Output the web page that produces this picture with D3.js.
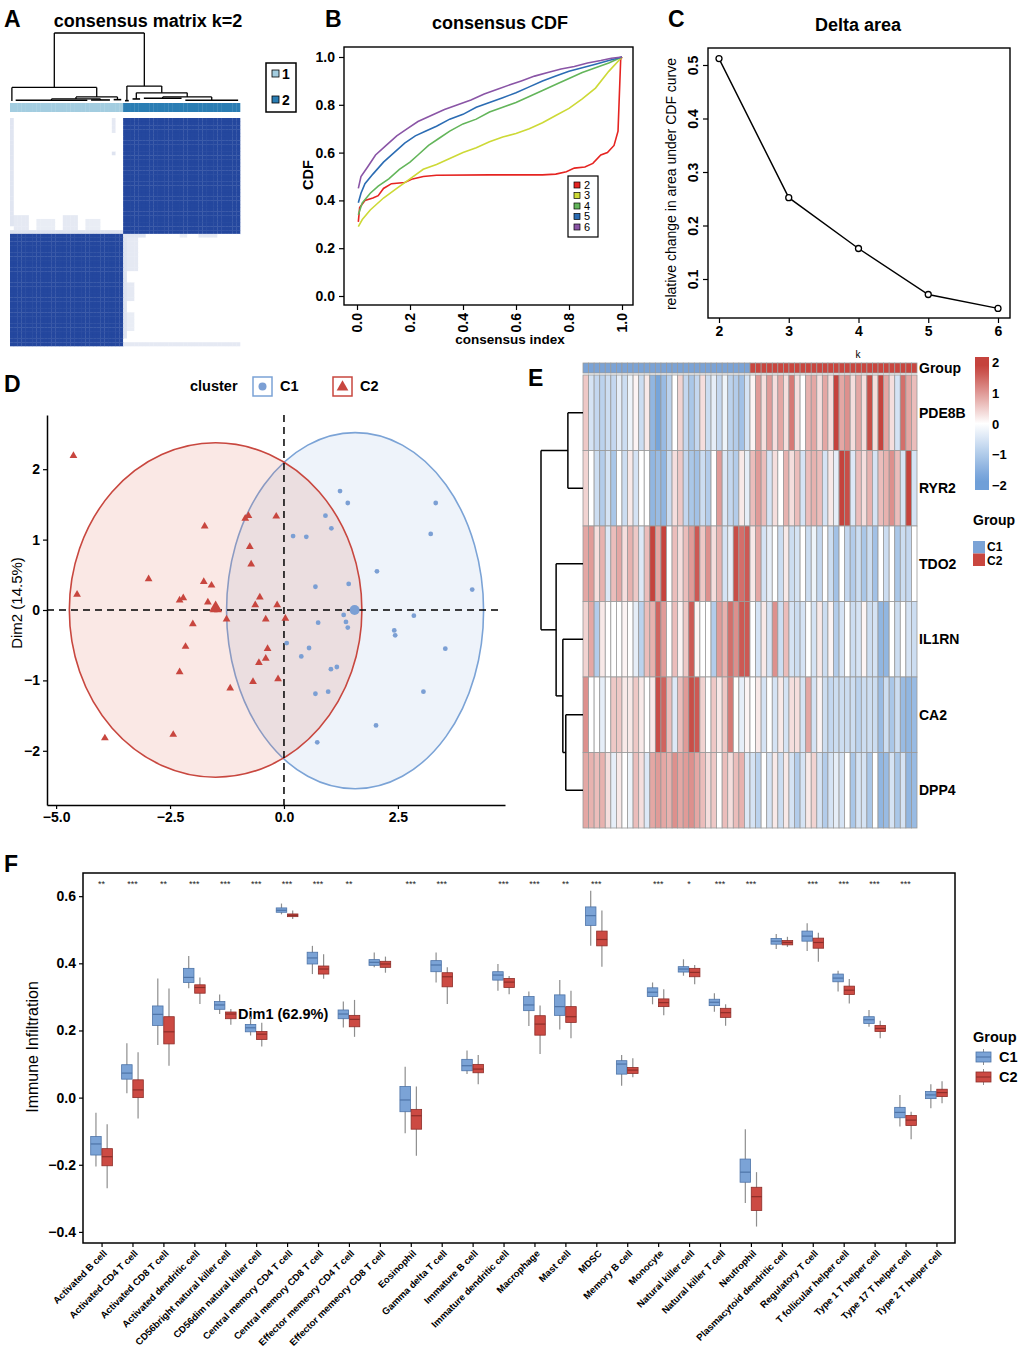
<!DOCTYPE html>
<html>
<head>
<meta charset="utf-8">
<script src="https://cdn.jsdelivr.net/npm/d3@7"></script>
<style>
  body { margin: 0; background: #fff; }
  svg { display: block; }
</style>
</head>
<body>
<svg id="fig" width="1022" height="1358"></svg>
<script>
const FONT = '"Liberation Sans", Arial, Helvetica, sans-serif';

// ---------- A: consensus matrix ----------
const consensusSizes = [30, 31];               // samples in cluster 1, cluster 2
const consensusBlocks = [[0, 1], [1, 0]];      // rows: cluster 2 block, cluster 1 block
const consensusFaint = [                       // [row0, row1, col0, col1, value]
  [0, 28, 0, 0, 0.14], [0, 3, 27, 27, 0.12], [9, 9, 27, 27, 0.15],
  [26, 29, 1, 4, 0.12], [27, 29, 7, 11, 0.1], [26, 29, 14, 17, 0.12], [27, 29, 20, 23, 0.1],
  [30, 30, 0, 29, 0.15],
  [31, 31, 30, 35, 0.14], [31, 31, 45, 46, 0.1], [31, 31, 50, 54, 0.12],
  [32, 58, 30, 30, 0.15], [32, 40, 31, 33, 0.12], [44, 48, 31, 32, 0.12], [52, 56, 31, 32, 0.1],
  [60, 60, 30, 60, 0.12]
];
const consensusTree = {h: 1, children: [
  {h: 0.2, children: [
    {h: 0, from: 0, to: 0},
    {h: 0.06, children: [
      {h: 0.03, children: [{h: 0.01, from: 1, to: 20}, {h: 0.015, from: 21, to: 26}]},
      {h: 0.02, from: 27, to: 29}
    ]}
  ]},
  {h: 0.22, children: [
    {h: 0.005, from: 30, to: 31},
    {h: 0.12, children: [
      {h: 0.03, from: 32, to: 34},
      {h: 0.06, children: [{h: 0.04, from: 35, to: 45}, {h: 0.01, from: 46, to: 60}]}
    ]}
  ]}
]};

// ---------- B: consensus CDF ----------
const cdfK = ["2", "3", "4", "5", "6"];
const cdfColors = ["#E52421", "#CDD936", "#63B55A", "#2B6CB3", "#8A55A6"];
const cdfCurves = [
  [[0.005,0.31],[0.01,0.37],[0.03,0.40],[0.06,0.41],[0.08,0.42],[0.10,0.45],[0.13,0.47],[0.18,0.475],[0.21,0.49],[0.25,0.50],[0.30,0.505],[0.50,0.507],[0.70,0.507],[0.75,0.51],[0.79,0.52],[0.82,0.535],[0.86,0.54],[0.89,0.555],[0.92,0.59],[0.945,0.60],[0.97,0.63],[0.985,0.69],[0.995,0.99],[1.0,1.0]],
  [[0.005,0.29],[0.02,0.32],[0.05,0.36],[0.10,0.41],[0.15,0.45],[0.20,0.49],[0.25,0.53],[0.30,0.55],[0.35,0.575],[0.40,0.60],[0.45,0.62],[0.50,0.645],[0.55,0.665],[0.60,0.68],[0.65,0.70],[0.70,0.725],[0.75,0.755],[0.80,0.785],[0.85,0.825],[0.90,0.87],[0.95,0.94],[1.0,1.0]],
  [[0.005,0.34],[0.02,0.39],[0.05,0.43],[0.08,0.46],[0.12,0.49],[0.16,0.53],[0.20,0.56],[0.23,0.59],[0.27,0.63],[0.31,0.66],[0.35,0.69],[0.40,0.72],[0.45,0.74],[0.50,0.77],[0.55,0.79],[0.60,0.81],[0.65,0.835],[0.70,0.86],[0.76,0.89],[0.80,0.91],[0.85,0.935],[0.90,0.955],[0.95,0.975],[1.0,1.0]],
  [[0.005,0.39],[0.015,0.43],[0.03,0.47],[0.06,0.51],[0.10,0.56],[0.14,0.60],[0.18,0.64],[0.22,0.67],[0.26,0.69],[0.30,0.71],[0.35,0.74],[0.40,0.76],[0.45,0.79],[0.50,0.81],[0.55,0.83],[0.60,0.85],[0.65,0.875],[0.70,0.90],[0.75,0.92],[0.80,0.94],[0.85,0.955],[0.90,0.97],[0.95,0.985],[1.0,1.0]],
  [[0.005,0.45],[0.015,0.50],[0.04,0.54],[0.07,0.59],[0.11,0.63],[0.15,0.67],[0.19,0.70],[0.23,0.73],[0.28,0.755],[0.33,0.78],[0.38,0.80],[0.43,0.82],[0.48,0.845],[0.53,0.865],[0.58,0.885],[0.62,0.90],[0.67,0.92],[0.72,0.935],[0.77,0.95],[0.82,0.96],[0.87,0.975],[0.92,0.985],[0.96,0.995],[1.0,1.0]]
];

// ---------- C: delta area ----------
const deltaK = [2, 3, 4, 5, 6];
const deltaArea = [0.512, 0.252, 0.157, 0.071, 0.045];

// ---------- D: PCA ----------
const c1Points = [[1.23,1.69],[1.40,1.52],[0.91,1.34],[1.04,1.16],[0.20,1.05],[0.49,1.04],[3.33,1.52],[3.22,1.08],[2.04,0.55],[0.69,0.33],[1.42,0.37],[4.13,0.29],[1.31,-0.07],[1.36,-0.17],[1.40,-0.25],[0.75,-0.18],[2.85,-0.08],[2.42,-0.29],[2.44,-0.36],[0.06,-0.47],[0.55,-0.54],[0.38,-0.66],[3.54,-0.55],[1.16,-0.81],[1.03,-0.84],[0.69,-1.19],[0.97,-1.16],[3.06,-1.16],[2.02,-1.64],[0.73,-1.88]];
const c2Points = [[-4.62,2.19],[-4.54,0.22],[-3.93,-1.82],[-2.43,-1.77],[-2.97,0.44],[-1.74,1.19],[-1.76,0.40],[-1.59,0.35],[-1.67,0.11],[-2.21,0.17],[-2.29,0.14],[-1.54,0.0],[-1.45,0.0],[-1.26,-0.13],[-2.00,-0.20],[-2.16,-0.52],[-2.29,-0.88],[-1.18,-1.11],[-0.68,-1.02],[-0.13,-0.98],[-0.55,-0.75],[-0.40,-0.69],[-0.36,-0.55],[-0.40,-0.13],[0.03,-0.12],[-0.15,0.07],[-0.63,0.07],[-0.53,0.18],[-0.72,0.65],[-0.75,0.90],[-0.85,1.30],[-0.78,1.34],[-0.17,1.33]];
const clusterCentroids = [[1.55, 0.0], [-1.5, 0.03]];
const clusterEllipses = [[1.56, -0.01, 2.82, 2.53], [-1.5, 0.0, 3.21, 2.375]]; // cx, cy, rx, ry

// ---------- E: heatmap ----------
const genes = ["PDE8B", "RYR2", "TDO2", "IL1RN", "CA2", "DPP4"];
const groupSizes = [30, 30];
const exprC1 = [
  [0.5,-0.5,-0.7,-0.8,-0.6,-0.7,-0.3,-0.6,-0.2,0.1,-0.6,0.2,-1.3,-1.6,-1.2,-0.8,0,0.4,-0.7,-1.0,-0.7,0.3,-0.6,-0.3,-0.7,-0.2,-0.8,-0.9,-1.1,-0.5],
  [0.4,0,-0.6,-0.9,-0.5,-1.0,0,-0.6,0.2,-0.5,0,0,-1.3,-1.2,-1.3,-0.6,0.3,0.5,-0.7,-1.0,-1.1,-0.6,-0.9,0,0.9,-0.4,-0.7,-0.9,0.2,-0.3],
  [0.8,0.9,0.3,0.7,-0.4,0.6,0.8,0.3,0.7,0.5,-0.4,0.6,1.7,0.8,1.7,0,0.6,0.3,0.6,0.9,1.5,0.5,1.0,0.3,0.7,-0.5,-0.3,1.6,1.3,1.5],
  [0.4,0.8,-0.9,0.2,0,0,0,0.1,0,-0.3,-0.8,0.6,0.7,1.4,0.9,0,0.6,0.1,0.5,1.5,0.1,0,0,-0.9,0.9,0.7,1.3,1.0,1.5,1.5],
  [1.0,0,0,-0.3,0,0.5,0.5,0.2,0.2,0.5,0.2,0,0.2,1.6,1.4,0.6,-0.4,0.6,0.9,1.6,1.5,0.4,0,0.5,0.2,0.5,1.2,0,-0.3,0.1],
  [0.8,0.7,0.6,0.7,0.3,-0.3,0.2,0,-0.2,0.6,0.3,-0.4,0.8,0.9,0.8,0.7,1.0,0.8,0.9,1.0,0.8,0.6,0.3,0.5,0,0.6,0.3,0.6,0.7,-0.4]
];
const exprC2 = [
  [0.1,0.9,0.3,0.9,0.3,0.8,0.3,1.2,0.3,0.0,0.7,0.8,0.3,0.8,0.3,1.8,0.8,1.0,0.3,0.8,0.3,1.6,0.3,1.7,0.8,0.3,-0.5,1.3,0.8,0.6],
  [0.6,0.9,0.6,-0.5,0.3,0,0.7,0.3,0.6,-0.5,0.6,0.7,0.6,-0.5,0.2,-0.3,1.9,1.6,-0.4,0.6,0.3,0.7,-0.5,0.6,0.7,1.0,0.6,-0.5,1.7,-0.5],
  [0.2,0.8,-0.5,-0.3,0,-0.6,0.2,-0.6,-0.5,0,-0.6,-0.2,-0.7,0,-0.6,-1.1,0,-0.7,-0.9,-0.6,-1.0,-0.6,-1.1,0,-0.6,0,-1.0,-0.6,-0.7,0],
  [0,-0.5,0.2,-0.5,1.0,-0.6,0.6,-0.5,-0.6,-0.5,0,-0.5,0.2,-0.6,0.1,-0.9,-0.5,0,-0.6,-0.5,0.1,-0.6,-0.5,-1.3,-1.3,0,-0.6,0,-0.5,-0.6],
  [0,0.2,-0.5,0,-0.5,0.2,-0.5,0.3,0.3,-0.5,0.8,-0.5,0.1,-0.6,-0.7,-0.6,-0.6,-0.6,-0.6,-0.8,-0.6,-0.6,-0.6,-1.2,-0.6,-1.0,-0.6,-1.2,-1.3,-1.2],
  [-0.5,-0.8,0,-0.5,0.2,-0.6,0.2,-0.5,-0.9,-0.5,0.2,0.4,-0.5,-0.9,-0.5,-0.3,-0.5,0,-1.0,-0.5,-0.5,-1.0,0,-1.3,-1.2,-0.5,-1.0,-0.5,-1.3,-1.2]
];
const geneTree = {h: 10, children: [
  {h: 3.6, children: [{leaf: "PDE8B"}, {leaf: "RYR2"}]},
  {h: 6.4, children: [
    {leaf: "TDO2"},
    {h: 4.8, children: [{leaf: "IL1RN"}, {h: 4.1, children: [{leaf: "CA2"}, {leaf: "DPP4"}]}]}
  ]}
]};
const legendTicks = [2, 1, 0, -1, -2];

// ---------- F: immune infiltration ----------
const immuneCells = ["Activated B cell","Activated CD4 T cell","Activated CD8 T cell","Activated dendritic cell","CD56bright natural killer cell","CD56dim natural killer cell","Central memory CD4 T cell","Central memory CD8 T cell","Effector memeory CD4 T cell","Effector memeory CD8 T cell","Eosinophil","Gamma delta T cell","Immature  B cell","Immature dendritic cell","Macrophage","Mast cell","MDSC","Memory B cell","Monocyte","Natural killer cell","Natural killer T cell","Neutrophil","Plasmacytoid dendritic cell","Regulatory T cell","T follicular helper cell","Type 1 T helper cell","Type 17 T helper cell","Type 2 T helper cell"];
// [lower whisker, q1, median, q3, upper whisker]
const boxC1 = [[-0.205,-0.171,-0.138,-0.116,-0.045],[0.013,0.055,0.073,0.098,0.162],[0.157,0.215,0.248,0.273,0.355],[0.326,0.343,0.358,0.385,0.422],[0.249,0.263,0.276,0.286,0.307],[0.185,0.196,0.208,0.218,0.241],[0.546,0.552,0.558,0.565,0.578],[0.368,0.398,0.416,0.433,0.452],[0.209,0.235,0.249,0.261,0.286],[0.388,0.394,0.403,0.411,0.432],[-0.106,-0.042,-0.007,0.033,0.092],[0.343,0.375,0.395,0.408,0.432],[0.070,0.080,0.095,0.114,0.140],[0.318,0.350,0.365,0.375,0.398],[0.213,0.259,0.276,0.301,0.316],[0.203,0.245,0.271,0.306,0.350],[0.452,0.513,0.542,0.568,0.616],[0.035,0.070,0.100,0.110,0.127],[0.278,0.301,0.314,0.327,0.343],[0.363,0.374,0.383,0.390,0.412],[0.256,0.274,0.284,0.293,0.311],[-0.314,-0.252,-0.222,-0.183,-0.094],[0.443,0.457,0.466,0.474,0.487],[0.437,0.466,0.481,0.496,0.519],[0.316,0.345,0.356,0.368,0.378],[0.211,0.221,0.232,0.241,0.261],[-0.086,-0.060,-0.044,-0.029,0.008],[-0.032,-0.003,0.008,0.018,0.040]];
const boxC2 = [[-0.27,-0.203,-0.176,-0.152,-0.079],[-0.062,0.0,0.023,0.053,0.135],[0.095,0.160,0.196,0.241,0.325],[0.279,0.311,0.328,0.336,0.358],[0.217,0.235,0.249,0.255,0.264],[0.152,0.173,0.189,0.197,0.223],[0.532,0.539,0.543,0.547,0.557],[0.354,0.368,0.383,0.392,0.427],[0.181,0.211,0.233,0.245,0.291],[0.372,0.388,0.398,0.406,0.420],[-0.173,-0.094,-0.054,-0.035,0.033],[0.279,0.330,0.360,0.372,0.388],[0.040,0.074,0.085,0.099,0.127],[0.308,0.328,0.344,0.355,0.362],[0.130,0.186,0.219,0.244,0.274],[0.177,0.224,0.241,0.271,0.318],[0.390,0.452,0.471,0.496,0.557],[0.061,0.072,0.082,0.090,0.117],[0.245,0.271,0.283,0.294,0.323],[0.338,0.360,0.373,0.385,0.395],[0.214,0.239,0.253,0.266,0.278],[-0.384,-0.336,-0.295,-0.267,-0.222],[0.449,0.455,0.462,0.468,0.479],[0.405,0.445,0.462,0.475,0.491],[0.280,0.307,0.320,0.332,0.353],[0.177,0.197,0.206,0.215,0.229],[-0.124,-0.083,-0.067,-0.053,-0.042],[-0.017,0.003,0.015,0.025,0.049]];
const sigLabels = ["**","***","**","***","***","***","***","***","**","","***","***","","***","***","**","***","","***","*","***","***","","***","***","***","***",""];

const C1 = "#7BA3D6", C2 = "#CC4A43";

// ======================================================
const svg = d3.select("#fig");

function txt(x, y, s, size, weight, anchor, rot) {
  const t = svg.append("text")
    .attr("font-family", FONT).attr("font-size", size)
    .attr("font-weight", weight || "normal")
    .attr("text-anchor", anchor || "start")
    .text(s);
  if (rot) t.attr("transform", `translate(${x},${y}) rotate(${rot})`);
  else t.attr("x", x).attr("y", y);
  return t;
}
function styleAxis(g, size, weight) {
  g.attr("font-family", FONT).attr("font-size", size).attr("font-weight", weight);
  g.selectAll(".tick line").attr("stroke", "#000").attr("stroke-width", 1.2);
  g.selectAll(".tick text").attr("fill", "#000");
}

// panel letters
[["A", 4, 27], ["B", 325, 27], ["C", 668, 27], ["D", 4, 392], ["E", 528, 386], ["F", 4, 872]]
  .forEach(([s, x, y]) => txt(x, y, s, 23, "bold"));

// ---------------- Panel A ----------------
(function () {
  const n = d3.sum(consensusSizes);
  const xA = d3.scaleBand().domain(d3.range(n)).range([10, 240]);
  const yA = d3.scaleBand().domain(d3.range(n)).range([118, 346]);
  const colBlock = c => (c < consensusSizes[0] ? 0 : 1);
  const rowBlock = r => (r < consensusSizes[1] ? 0 : 1);
  const mat = d3.range(n).map(r => d3.range(n).map(c => consensusBlocks[rowBlock(r)][colBlock(c)]));
  consensusFaint.forEach(([r0, r1, c0, c1, v]) => {
    for (let r = r0; r <= r1; r++) for (let c = c0; c <= c1; c++) mat[r][c] = v;
  });
  const col = d3.scaleLinear([0, 1], ["#ffffff", "#24479E"]);
  const cells = mat.flatMap((row, r) => row.map((v, c) => ({r, c, v})));
  svg.append("g").selectAll("rect").data(cells).join("rect")
    .attr("x", d => xA(d.c)).attr("y", d => yA(d.r))
    .attr("width", xA.bandwidth() + 0.3).attr("height", yA.bandwidth() + 0.3)
    .attr("fill", d => col(d.v));

  // cluster colour bar
  const barCol = ["#A3CDE0", "#2A7DB3"];
  svg.append("g").selectAll("rect").data(d3.range(n)).join("rect")
    .attr("x", d => xA(d)).attr("y", 103).attr("width", xA.bandwidth() + 0.3).attr("height", 9)
    .attr("fill", d => barCol[colBlock(d)]);

  // dendrogram
  const yD = d3.scaleLinear([0, 1], [101, 33]);
  const leafX = i => xA(i) + xA.bandwidth() / 2;
  const g = svg.append("g").attr("stroke", "#000").attr("stroke-width", 1.3).attr("fill", "none");
  function lay(node) {
    if (node.children) {
      const xs = node.children.map(lay);
      node.children.forEach((ch, i) => {
        g.append("line").attr("x1", xs[i]).attr("x2", xs[i]).attr("y1", yD(ch.h)).attr("y2", yD(node.h));
      });
      g.append("line").attr("x1", xs[0]).attr("x2", xs[1]).attr("y1", yD(node.h)).attr("y2", yD(node.h));
      return (xs[0] + xs[1]) / 2;
    }
    if (node.to > node.from) {
      g.append("line").attr("x1", leafX(node.from)).attr("x2", leafX(node.to))
        .attr("y1", yD(node.h)).attr("y2", yD(node.h)).attr("stroke-width", 1.6);
    }
    return (leafX(node.from) + leafX(node.to)) / 2;
  }
  lay(consensusTree);

  txt(148, 27, "consensus matrix k=2", 18, "bold", "middle");

  // legend
  svg.append("rect").attr("x", 266).attr("y", 63).attr("width", 30).attr("height", 49)
    .attr("fill", "#fff").attr("stroke", "#000").attr("stroke-width", 1.5);
  ["1", "2"].forEach((s, i) => {
    svg.append("rect").attr("x", 272).attr("y", 70 + i * 26).attr("width", 7).attr("height", 7)
      .attr("fill", barCol[i]).attr("stroke", "#000").attr("stroke-width", 0.8);
    txt(282, 79 + i * 26, s, 14, "bold");
  });
})();

// ---------------- Panel B ----------------
(function () {
  const xB = d3.scaleLinear([0, 1], [357, 622]);
  const yB = d3.scaleLinear([0, 1], [296, 57]);
  const line = d3.line().x(d => xB(d[0])).y(d => yB(d[1]));
  svg.append("g").selectAll("path").data(cdfCurves).join("path")
    .attr("d", line).attr("fill", "none")
    .attr("stroke", (d, i) => cdfColors[i]).attr("stroke-width", 1.6);
  svg.append("rect").attr("x", 344).attr("y", 47).attr("width", 289).attr("height", 258)
    .attr("fill", "none").attr("stroke", "#000").attr("stroke-width", 1.4);
  const ay = svg.append("g").attr("transform", "translate(344,0)")
    .call(d3.axisLeft(yB).tickValues([0, 0.2, 0.4, 0.6, 0.8, 1]).tickFormat(d3.format(".1f")).tickSize(5).tickPadding(4));
  ay.select(".domain").remove();
  styleAxis(ay, 14, "bold");
  const ax = svg.append("g").attr("transform", "translate(0,305)")
    .call(d3.axisBottom(xB).tickValues([0, 0.2, 0.4, 0.6, 0.8, 1]).tickFormat(d3.format(".1f")).tickSize(5));
  ax.select(".domain").remove();
  styleAxis(ax, 14, "bold");
  ax.selectAll(".tick text").attr("transform", "rotate(-90)").attr("text-anchor", "end")
    .attr("x", -8).attr("y", 0).attr("dy", "0.35em");
  txt(500, 29, "consensus CDF", 18, "bold", "middle");
  txt(510, 344, "consensus index", 13.5, "bold", "middle");
  txt(313, 175, "CDF", 14.5, "bold", "middle", -90);

  svg.append("rect").attr("x", 568).attr("y", 176).attr("width", 30).attr("height", 61)
    .attr("fill", "#fff").attr("stroke", "#000").attr("stroke-width", 1.2);
  cdfK.forEach((k, i) => {
    svg.append("rect").attr("x", 574).attr("y", 182 + i * 10.5).attr("width", 6).attr("height", 6)
      .attr("fill", cdfColors[i]).attr("stroke", "#000").attr("stroke-width", 0.7);
    txt(584, 188.5 + i * 10.5, k, 11);
  });
})();

// ---------------- Panel C ----------------
(function () {
  const xC = d3.scaleLinear([2, 6], [719, 998]);
  const yC = d3.scaleLinear([0.1, 0.5], [279, 65]);
  const pts = deltaK.map((k, i) => [k, deltaArea[i]]);
  svg.append("path").datum(pts).attr("fill", "none").attr("stroke", "#000").attr("stroke-width", 1.4)
    .attr("d", d3.line().x(d => xC(d[0])).y(d => yC(d[1])));
  svg.append("g").selectAll("circle").data(pts).join("circle")
    .attr("cx", d => xC(d[0])).attr("cy", d => yC(d[1])).attr("r", 3)
    .attr("fill", "#fff").attr("stroke", "#000").attr("stroke-width", 1.3);
  svg.append("rect").attr("x", 708).attr("y", 48).attr("width", 302).attr("height", 270)
    .attr("fill", "none").attr("stroke", "#000").attr("stroke-width", 1.4);
  const ay = svg.append("g").attr("transform", "translate(708,0)")
    .call(d3.axisLeft(yC).tickValues([0.1, 0.2, 0.3, 0.4, 0.5]).tickFormat(d3.format(".1f")).tickSize(5));
  ay.select(".domain").remove();
  styleAxis(ay, 14, "bold");
  ay.selectAll(".tick text").attr("x", 0).attr("dy", 0).attr("text-anchor", "middle")
    .attr("transform", "translate(-10,0) rotate(-90)");
  const ax = svg.append("g").attr("transform", "translate(0,318)")
    .call(d3.axisBottom(xC).tickValues(deltaK).tickFormat(d3.format("d")).tickSize(5));
  ax.select(".domain").remove();
  styleAxis(ax, 14, "bold");
  txt(858, 31, "Delta area", 18, "bold", "middle");
  txt(676, 184, "relative change in area under CDF curve", 14, "normal", "middle", -90);
  txt(858, 358, "k", 10, "normal", "middle");
})();

// ---------------- Panel D ----------------
(function () {
  const xD = d3.scaleLinear([-5.2, 4.85], [47, 505]);
  const yD = d3.scaleLinear([-2.77, 2.77], [805, 415]);
  const ellCol = [C1, "#C8473F"];
  const ellFill = ["#7BA3D6", "#E0705F"];
  clusterEllipses.forEach(([cx, cy, rx, ry], i) => {
    svg.append("ellipse")
      .attr("cx", xD(cx)).attr("cy", yD(cy))
      .attr("rx", xD(cx + rx) - xD(cx)).attr("ry", yD(cy) - yD(cy + ry))
      .attr("fill", ellFill[i]).attr("fill-opacity", i ? 0.16 : 0.13)
      .attr("stroke", ellCol[i]).attr("stroke-width", 1.6);
  });
  // reference lines
  svg.append("line").attr("x1", 47).attr("x2", 500).attr("y1", yD(0)).attr("y2", yD(0))
    .attr("stroke", "#000").attr("stroke-width", 1.5).attr("stroke-dasharray", "7,5");
  svg.append("line").attr("x1", xD(0)).attr("x2", xD(0)).attr("y1", 415).attr("y2", 805)
    .attr("stroke", "#000").attr("stroke-width", 1.5).attr("stroke-dasharray", "7,5");

  svg.append("g").selectAll("circle").data(c1Points).join("circle")
    .attr("cx", d => xD(d[0])).attr("cy", d => yD(d[1])).attr("r", 2.4).attr("fill", "#7B9FD4");
  const tri = d3.symbol(d3.symbolTriangle).size(26);
  svg.append("g").selectAll("path").data(c2Points).join("path")
    .attr("transform", d => `translate(${xD(d[0])},${yD(d[1])})`).attr("d", tri).attr("fill", "#C8463F");
  svg.append("circle").attr("cx", xD(clusterCentroids[0][0])).attr("cy", yD(clusterCentroids[0][1]))
    .attr("r", 5).attr("fill", "#7B9FD4");
  svg.append("path").attr("transform", `translate(${xD(clusterCentroids[1][0])},${yD(clusterCentroids[1][1])})`)
    .attr("d", d3.symbol(d3.symbolTriangle).size(70)).attr("fill", "#C8463F");

  const ax = svg.append("g").attr("transform", "translate(0,805)")
    .call(d3.axisBottom(xD).tickValues([-5, -2.5, 0, 2.5]).tickFormat(d3.format(".1f")).tickSize(4).tickSizeOuter(0));
  styleAxis(ax, 14, "bold");
  ax.select(".domain").attr("stroke-width", 1.5);
  const ay = svg.append("g").attr("transform", "translate(47,0)")
    .call(d3.axisLeft(yD).tickValues([-2, -1, 0, 1, 2]).tickFormat(d3.format("d")).tickSize(4).tickSizeOuter(0));
  styleAxis(ay, 14, "bold");
  ay.select(".domain").attr("stroke-width", 1.5);

  txt(22, 603, "Dim2 (14.5%)", 15, "normal", "middle", -90);
  txt(238, 1019, "Dim1 (62.9%)", 14.5, "bold");

  // legend
  txt(190, 391, "cluster", 14.5, "bold");
  svg.append("rect").attr("x", 253).attr("y", 377).attr("width", 19).attr("height", 19)
    .attr("fill", "#fff").attr("stroke", C1).attr("stroke-width", 1.5);
  svg.append("circle").attr("cx", 262.5).attr("cy", 386.5).attr("r", 4).attr("fill", "#7B9FD4");
  txt(280, 391, "C1", 14.5, "bold");
  svg.append("rect").attr("x", 333).attr("y", 377).attr("width", 19).attr("height", 19)
    .attr("fill", "#fff").attr("stroke", "#C8473F").attr("stroke-width", 1.5);
  svg.append("path").attr("transform", "translate(342.5,387)")
    .attr("d", d3.symbol(d3.symbolTriangle).size(60)).attr("fill", "#C8463F");
  txt(360, 391, "C2", 14.5, "bold");
})();

// ---------------- Panel E ----------------
(function () {
  const n = d3.sum(groupSizes);
  const xE = d3.scaleBand().domain(d3.range(n)).range([583, 917]);
  const yE = d3.scaleBand().domain(genes).range([375, 828]);
  const heat = d3.scaleLinear([-1.7, 0, 1.7], ["#6F9FD8", "#FFFFFF", "#C5433D"]).clamp(true);
  const cells = genes.flatMap((g, r) => exprC1[r].concat(exprC2[r]).map((v, c) => ({g, c, v})));
  svg.append("g").selectAll("rect").data(cells).join("rect")
    .attr("x", d => xE(d.c)).attr("y", d => yE(d.g))
    .attr("width", xE.bandwidth()).attr("height", yE.bandwidth())
    .attr("fill", d => heat(d.v)).attr("stroke", "#9A9A9A").attr("stroke-width", 0.8);
  // group annotation
  svg.append("g").selectAll("rect").data(d3.range(n)).join("rect")
    .attr("x", d => xE(d)).attr("y", 363).attr("width", xE.bandwidth()).attr("height", 10)
    .attr("fill", d => (d < groupSizes[0] ? "#7BA3D6" : "#C9463F"))
    .attr("stroke", "#9A9A9A").attr("stroke-width", 0.8);
  txt(919, 373, "Group", 14, "bold");
  genes.forEach(g => txt(919, yE(g) + yE.bandwidth() / 2 + 5, g, 14, "bold"));

  // row dendrogram
  const xH = d3.scaleLinear([0, 10], [583, 541]);
  const dg = svg.append("g").attr("stroke", "#000").attr("stroke-width", 1.5).attr("fill", "none");
  function lay(node) {
    if (node.leaf) { node.h = 0; return yE(node.leaf) + yE.bandwidth() / 2; }
    const ys = node.children.map(lay);
    node.children.forEach((ch, i) => {
      dg.append("line").attr("y1", ys[i]).attr("y2", ys[i]).attr("x1", xH(ch.h)).attr("x2", xH(node.h));
    });
    dg.append("line").attr("y1", ys[0]).attr("y2", ys[1]).attr("x1", xH(node.h)).attr("x2", xH(node.h));
    return (ys[0] + ys[1]) / 2;
  }
  lay(geneTree);

  // colour legend
  const yL = d3.scaleLinear([-2, 2], [485, 362]);
  const grad = svg.append("defs").append("linearGradient").attr("id", "heatGrad")
    .attr("x1", 0).attr("x2", 0).attr("y1", 1).attr("y2", 0);
  d3.range(-2, 2.01, 0.25).forEach(v => {
    grad.append("stop").attr("offset", (v + 2) / 4).attr("stop-color", heat(v));
  });
  svg.append("rect").attr("x", 975).attr("y", 357).attr("width", 14).attr("height", 133)
    .attr("fill", "url(#heatGrad)");
  legendTicks.forEach(v => txt(992, yL(v) + 5, d3.format("d")(v), 13, "bold"));
  txt(973, 525, "Group", 14, "bold");
  svg.append("rect").attr("x", 973).attr("y", 541).attr("width", 12).attr("height", 12.5).attr("fill", "#7BA3D6");
  svg.append("rect").attr("x", 973).attr("y", 553.5).attr("width", 12).attr("height", 12.5).attr("fill", "#C9463F");
  txt(987, 551, "C1", 12, "bold");
  txt(987, 564.5, "C2", 12, "bold");
})();

// ---------------- Panel F ----------------
(function () {
  const xF = d3.scalePoint().domain(immuneCells).range([83, 955]).padding(0.6);
  const yF = d3.scaleLinear([-0.433, 0.669], [1243, 873]);
  const bw = 10.5, off = 5.6;
  const groups = [
    {stats: boxC1, dx: -off, fill: "#7BA3D6", line: "#4E74A8"},
    {stats: boxC2, dx: off, fill: "#CC4A43", line: "#8E2E29"}
  ];
  groups.forEach(gr => {
    const g = svg.append("g");
    const items = immuneCells.map((c, i) => ({x: xF(c) + gr.dx, s: gr.stats[i]}));
    g.selectAll("line.wh").data(items).join("line").attr("class", "wh")
      .attr("x1", d => d.x).attr("x2", d => d.x)
      .attr("y1", d => yF(d.s[0])).attr("y2", d => yF(d.s[4]))
      .attr("stroke", "#8E8E8E").attr("stroke-width", 1.2);
    g.selectAll("rect").data(items).join("rect")
      .attr("x", d => d.x - bw / 2).attr("width", bw)
      .attr("y", d => yF(d.s[3])).attr("height", d => Math.max(1, yF(d.s[1]) - yF(d.s[3])))
      .attr("fill", gr.fill).attr("stroke", gr.line).attr("stroke-width", 0.8);
    g.selectAll("line.md").data(items).join("line").attr("class", "md")
      .attr("x1", d => d.x - bw / 2).attr("x2", d => d.x + bw / 2)
      .attr("y1", d => yF(d.s[2])).attr("y2", d => yF(d.s[2]))
      .attr("stroke", gr.line).attr("stroke-width", 1.2);
  });
  svg.append("g").selectAll("text").data(immuneCells).join("text")
    .attr("x", d => xF(d)).attr("y", 887)
    .attr("text-anchor", "middle").attr("font-family", FONT).attr("font-size", 9).attr("fill", "#222")
    .text((d, i) => sigLabels[i]);

  svg.append("rect").attr("x", 83).attr("y", 873).attr("width", 872).attr("height", 370)
    .attr("fill", "none").attr("stroke", "#000").attr("stroke-width", 1.5);
  const ay = svg.append("g").attr("transform", "translate(83,0)")
    .call(d3.axisLeft(yF).tickValues([-0.4, -0.2, 0, 0.2, 0.4, 0.6]).tickFormat(d3.format(".1f")).tickSize(4));
  ay.select(".domain").remove();
  styleAxis(ay, 14, "bold");
  const ax = svg.append("g").attr("transform", "translate(0,1243)")
    .call(d3.axisBottom(xF).tickSize(4).tickFormat(""));
  ax.select(".domain").remove();
  styleAxis(ax, 10, "bold");
  svg.append("g").selectAll("text").data(immuneCells).join("text")
    .attr("transform", d => `translate(${xF(d) + 6},${1254}) rotate(-45)`)
    .attr("text-anchor", "end").attr("font-family", FONT).attr("font-size", 9.6).attr("font-weight", "bold")
    .text(d => d);

  txt(38, 1047, "Immune Infiltration", 16, "normal", "middle", -90);

  txt(973, 1042, "Group", 14.5, "bold");
  groups.forEach((gr, i) => {
    const y0 = 1051 + i * 20;
    svg.append("line").attr("x1", 983.5).attr("x2", 983.5).attr("y1", y0 - 2).attr("y2", y0 + 14)
      .attr("stroke", "#8E8E8E").attr("stroke-width", 1);
    svg.append("rect").attr("x", 976).attr("y", y0 + 1).attr("width", 15).attr("height", 10)
      .attr("fill", gr.fill).attr("stroke", gr.line).attr("stroke-width", 0.8);
    svg.append("line").attr("x1", 976).attr("x2", 991).attr("y1", y0 + 6).attr("y2", y0 + 6)
      .attr("stroke", gr.line).attr("stroke-width", 1.1);
    txt(999, y0 + 11, i ? "C2" : "C1", 14.5, "bold");
  });
})();
</script>
</body>
</html>
